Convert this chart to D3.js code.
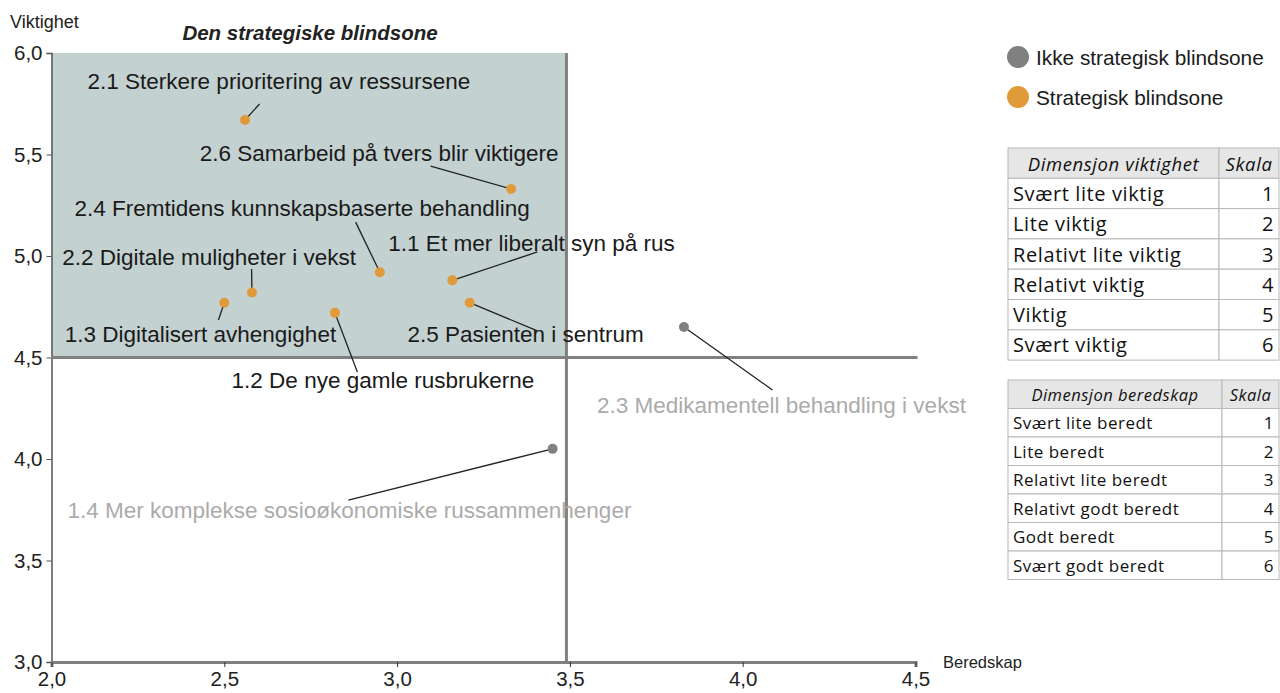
<!DOCTYPE html>
<html>
<head>
<meta charset="utf-8">
<script src="https://cdn.jsdelivr.net/npm/d3@7"></script>
<style>
  body { margin: 0; background: #fff; }
  svg { display: block; font-family: "Liberation Sans", Arial, sans-serif; }
</style>
</head>
<body>
<div id="chart"></div>
<script>
//////////////////////////// data /////////////////////////////////////////

const ids = ["2.1", "2.6", "2.4", "1.1", "2.2", "1.3", "1.2", "2.5", "2.3", "1.4"];
const names = [
  "Sterkere prioritering av ressursene",
  "Samarbeid på tvers blir viktigere",
  "Fremtidens kunnskapsbaserte behandling",
  "Et mer liberalt syn på rus",
  "Digitale muligheter i vekst",
  "Digitalisert avhengighet",
  "De nye gamle rusbrukerne",
  "Pasienten i sentrum",
  "Medikamentell behandling i vekst",
  "Mer komplekse sosioøkonomiske russammenhenger"
];
const beredskap = [2.56, 3.33, 2.95, 3.16, 2.58, 2.50, 2.82, 3.21, 3.83, 3.45];
const viktighet = [5.67, 5.33, 4.92, 4.88, 4.82, 4.77, 4.72, 4.77, 4.65, 4.05];
const blindsone = [true, true, true, true, true, true, true, true, false, false];

// label centre and leader end, in data units
const labelX = [2.658, 2.948, 2.725, 3.389, 2.456, 2.431, 2.959, 3.372, 4.112, 2.862];
const labelY = [5.862, 5.507, 5.232, 5.064, 4.995, 4.611, 4.389, 4.611, 4.266, 3.744];
const leadX = [2.602, 3.097, 2.880, 3.406, 2.579, 2.483, 2.885, 3.406, 4.086, 2.859];
const leadY = [5.749, 5.443, 5.167, 5.020, 4.936, 4.685, 4.429, 4.631, 4.340, 3.798];

const xTicks = [2.0, 2.5, 3.0, 3.5, 4.0, 4.5];
const yTicks = [3.0, 3.5, 4.0, 4.5, 5.0, 5.5, 6.0];

const legendItems = ["Ikke strategisk blindsone", "Strategisk blindsone"];

const viktighetRows = ["Svært lite viktig", "Lite viktig", "Relativt lite viktig", "Relativt viktig", "Viktig", "Svært viktig"];
const beredskapRows = ["Svært lite beredt", "Lite beredt", "Relativt lite beredt", "Relativt godt beredt", "Godt beredt", "Svært godt beredt"];
const skala = [1, 2, 3, 4, 5, 6];

const points = ids.map((id, i) => ({
  label: id + " " + names[i],
  x: beredskap[i], y: viktighet[i], blind: blindsone[i],
  lx: labelX[i], ly: labelY[i], ex: leadX[i], ey: leadY[i]
}));

//////////////////////////// sizes ////////////////////////////////////////

const width = 1280, height = 693;
const xCut = 3.49, yCut = 4.5;

const orange = "#e09a3a", grey = "#808080";

const svg = d3.select("#chart").append("svg").attr("width", width).attr("height", height);

//////////////////////////// scales ///////////////////////////////////////

const x = d3.scaleLinear().domain([2, 4.5]).range([51.5, 915.5]);
const y = d3.scaleLinear().domain([3, 6]).range([662, 53]);
const fmt = d3.format(".1f");
const comma = (d) => fmt(d).replace(".", ",");

//////////////////////////// quadrant /////////////////////////////////////

svg.append("rect")
  .attr("x", x(2)).attr("y", y(6))
  .attr("width", x(xCut) - x(2)).attr("height", y(yCut) - y(6))
  .attr("fill", "#c3d1d1");

//////////////////////////// axes /////////////////////////////////////////

const yAxis = svg.append("g")
  .attr("transform", `translate(${x(2)},0)`)
  .call(d3.axisLeft(y).tickValues(yTicks).tickFormat(comma).tickSize(5).tickPadding(4));
yAxis.select(".domain").attr("stroke", "#555").attr("stroke-width", 1.5);
yAxis.selectAll(".tick line").attr("stroke", "#555");
yAxis.selectAll("text").attr("font-size", 20.5).attr("fill", "#222").attr("font-family", "Liberation Sans");

const xAxis = svg.append("g")
  .attr("transform", `translate(0,${y(3)})`)
  .call(d3.axisBottom(x).tickValues(xTicks).tickFormat(comma).tickSize(5).tickSizeOuter(5).tickPadding(4));
xAxis.select(".domain").attr("stroke", grey).attr("stroke-width", 3);
xAxis.selectAll(".tick line").attr("stroke", "#333");
xAxis.selectAll("text").attr("font-size", 20.5).attr("fill", "#222").attr("font-family", "Liberation Sans");

// quadrant lines
svg.append("line")
  .attr("x1", x(xCut)).attr("x2", x(xCut)).attr("y1", y(6)).attr("y2", y(3))
  .attr("stroke", grey).attr("stroke-width", 3);
svg.append("line")
  .attr("x1", x(2)).attr("x2", x(4.5) + 2).attr("y1", y(yCut)).attr("y2", y(yCut))
  .attr("stroke", grey).attr("stroke-width", 3);

// axis titles
svg.append("text").attr("x", 10).attr("y", 28).attr("font-size", 18).attr("fill", "#222").text("Viktighet");
svg.append("text").attr("x", 943).attr("y", 668).attr("font-size", 16.5).attr("fill", "#222").text("Beredskap");

svg.append("text")
  .attr("x", 310).attr("y", 40).attr("text-anchor", "middle")
  .attr("font-size", 20.5).attr("font-weight", "bold").attr("font-style", "italic").attr("fill", "#222")
  .text("Den strategiske blindsone");

//////////////////////////// points ///////////////////////////////////////

svg.append("g").selectAll("line").data(points).join("line")
  .attr("x1", (d) => x(d.x)).attr("y1", (d) => y(d.y))
  .attr("x2", (d) => x(d.ex)).attr("y2", (d) => y(d.ey))
  .attr("stroke", "#222").attr("stroke-width", 1.3);

svg.append("g").selectAll("circle").data(points).join("circle")
  .attr("cx", (d) => x(d.x)).attr("cy", (d) => y(d.y)).attr("r", 5)
  .attr("fill", (d) => (d.blind ? orange : grey));

svg.append("g").selectAll("text").data(points).join("text")
  .attr("x", (d) => x(d.lx)).attr("y", (d) => y(d.ly))
  .attr("text-anchor", "middle").attr("dominant-baseline", "central")
  .attr("font-size", 22.5)
  .attr("fill", (d) => (d.blind ? "#1a1a1a" : "#ababab"))
  .text((d) => d.label);

//////////////////////////// legend ///////////////////////////////////////

const legend = svg.append("g").selectAll("g").data(legendItems).join("g")
  .attr("transform", (d, i) => `translate(1018,${57 + i * 40})`);
legend.append("circle").attr("r", 11).attr("fill", (d, i) => (i === 0 ? grey : orange));
legend.append("text").attr("x", 18).attr("dominant-baseline", "central")
  .attr("font-size", 20.8).attr("fill", "#1a1a1a").text((d) => d);

//////////////////////////// tables ///////////////////////////////////////

const drawTable = (top, rowH, split, head, rows, fs, hfs, ls) => {
  const left = 1008, right = 1279;
  const g = svg.append("g").attr("font-family", "'Open Sans', sans-serif")
    .attr("font-size", fs).attr("letter-spacing", ls);
  const all = [head].concat(rows);
  all.forEach((r, i) => {
    const yy = top + i * rowH;
    g.append("rect").attr("x", left).attr("y", yy).attr("width", split - left).attr("height", rowH)
      .attr("fill", i === 0 ? "#e6e6e6" : "#fff").attr("stroke", "#b8b8b8");
    g.append("rect").attr("x", split).attr("y", yy).attr("width", right - split).attr("height", rowH)
      .attr("fill", i === 0 ? "#e6e6e6" : "#fff").attr("stroke", "#b8b8b8");
    if (i === 0) {
      g.append("text").attr("x", (left + split) / 2).attr("y", yy + rowH / 2)
        .attr("text-anchor", "middle").attr("dominant-baseline", "central").attr("font-size", hfs)
        .attr("font-style", "italic").attr("fill", "#111").text(r);
      g.append("text").attr("x", (split + right) / 2).attr("y", yy + rowH / 2)
        .attr("text-anchor", "middle").attr("dominant-baseline", "central").attr("font-size", hfs)
        .attr("font-style", "italic").attr("fill", "#111").text("Skala");
    } else {
      g.append("text").attr("x", left + 5).attr("y", yy + rowH / 2)
        .attr("dominant-baseline", "central").attr("fill", "#111").text(r);
      g.append("text").attr("x", right - 5).attr("y", yy + rowH / 2)
        .attr("text-anchor", "end").attr("dominant-baseline", "central").attr("fill", "#111").text(skala[i - 1]);
    }
  });
};

drawTable(148, 30.3, 1219, "Dimensjon viktighet", viktighetRows, 20, 18.5, 0.6);
drawTable(380, 28.5, 1222, "Dimensjon beredskap", beredskapRows, 17, 16.5, 0.5);
</script>
</body>
</html>
